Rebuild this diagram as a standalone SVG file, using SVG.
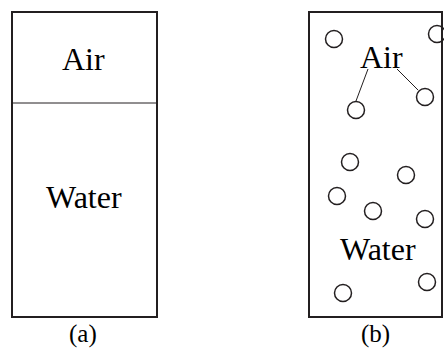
<svg xmlns="http://www.w3.org/2000/svg" width="444" height="350" viewBox="0 0 444 350">
<defs>
<circle id="mol" r="8.5" fill="none" stroke="#231f20" stroke-width="1.5"/>
</defs>
<rect width="444" height="350" fill="#fff"/>
<g id="panel-a">
<rect x="12" y="12" width="145" height="305" fill="none" stroke="#231f20" stroke-width="2"/>
<line x1="12" y1="103" x2="157" y2="103" stroke="#231f20" stroke-width="1"/>
</g>
<g id="panel-b">
<rect x="309" y="12" width="133" height="305" fill="none" stroke="#231f20" stroke-width="2"/>
</g>
<g id="molecules">
<use href="#mol" x="334" y="39"/>
<use href="#mol" x="437" y="34"/>
<use href="#mol" x="356" y="110"/>
<use href="#mol" x="425" y="97"/>
<use href="#mol" x="350" y="162"/>
<use href="#mol" x="406" y="175"/>
<use href="#mol" x="337" y="196"/>
<use href="#mol" x="373" y="211"/>
<use href="#mol" x="425" y="219"/>
<use href="#mol" x="343" y="293"/>
<use href="#mol" x="427" y="282"/>
</g>
<g id="connectors" stroke="#231f20" stroke-width="1">
<line x1="368" y1="69" x2="356" y2="101"/>
<line x1="397" y1="69" x2="418" y2="90"/>
</g>
<text x="62" y="70" font-family="Liberation Serif" font-size="32">Air</text>
<text x="46" y="208" font-family="Liberation Serif" font-size="32">Water</text>
<text x="69" y="342" font-family="Liberation Serif" font-size="25">(a)</text>
<text x="360" y="68" font-family="Liberation Serif" font-size="32">Air</text>
<text x="340" y="260" font-family="Liberation Serif" font-size="32">Water</text>
<text x="361" y="342" font-family="Liberation Serif" font-size="25">(b)</text>
</svg>
